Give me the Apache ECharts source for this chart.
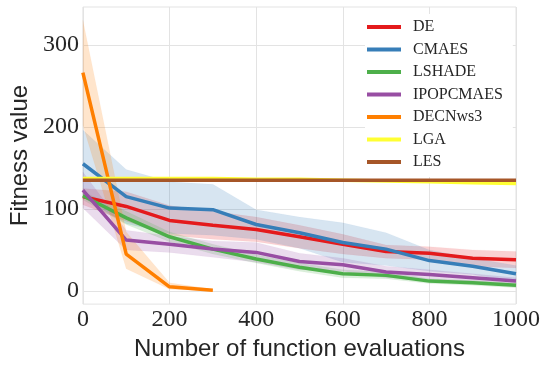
<!DOCTYPE html>
<html>
<head>
<meta charset="utf-8">
<script src="https://cdn.jsdelivr.net/npm/echarts@6/dist/echarts.min.js"></script>
<style>
  html, body { margin: 0; padding: 0; background: #fff; }
  #main { width: 548px; height: 366px; }
</style>
</head>
<body>
<div id="main"></div>
<script>
// evaluations on the x axis
const evals = [0, 100, 200, 300, 400, 500, 600, 700, 800, 900, 1000];
const evalsShort = [0, 100, 200, 300];
const yTicks = [0, 100, 200, 300];

// mean curves
const deMean = [115, 103, 86, 80, 75, 66, 57, 48, 46, 40, 38];
const cmaesMean = [155, 115, 101, 99, 81, 71, 59, 51, 37, 30, 21];
const lshadeMean = [116, 89, 66, 51, 39, 29, 21, 19, 12, 10, 7];
const ipopMean = [123, 62, 57, 51, 47, 36, 32, 23, 20, 16, 12];
const decnMean = [266, 45, 5, 1];
const lgaMean = [137, 137, 137, 137, 136, 136, 135, 134, 133, 132, 131];
const lesMean = [135, 135, 135, 135, 135, 135, 135, 135, 135, 135, 135];

// shaded bands (low / high)
const deLow = [105, 85, 68, 63, 60, 52, 45, 40, 38, 30, 28];
const deHigh = [125, 121, 104, 97, 90, 80, 69, 56, 54, 50, 48];
const cmaesLow = [114, 82, 70, 68, 63, 52, 35, 31, 24, 20, 11];
const cmaesHigh = [196, 148, 133, 130, 99, 90, 83, 71, 50, 40, 31];
const lshadeLow = [111, 81, 60, 45, 34, 24, 16, 15, 9, 7, 4];
const lshadeHigh = [121, 97, 72, 57, 44, 34, 26, 23, 15, 13, 10];
const ipopLow = [101, 50, 47, 41, 35, 26, 24, 16, 14, 11, 8];
const ipopHigh = [145, 74, 67, 61, 59, 46, 40, 30, 26, 21, 16];
const decnLow = [202, 27, 2, 0];
const decnHigh = [330, 72, 10, 2];

const names = ['DE', 'CMAES', 'LSHADE', 'IPOPCMAES', 'DECNws3', 'LGA', 'LES'];
const colors = ['#e41a1c', '#377eb8', '#4daf4a', '#984ea3', '#ff7f00', '#ffff33', '#a65628'];

var chart = echarts.init(document.getElementById('main'));

function pairs(xs, ys) {
  return ys.map(function (v, i) { return [xs[i], v]; });
}

// filled band between low and high, drawn through the axes
function band(xs, low, high, color) {
  return {
    type: 'custom', silent: true, z: 1,
    data: [[xs[0], low[0]]],
    renderItem: function (params, api) {
      var pts = [];
      for (var i = 0; i < xs.length; i++) pts.push(api.coord([xs[i], high[i]]));
      for (var j = xs.length - 1; j >= 0; j--) pts.push(api.coord([xs[j], low[j]]));
      return {
        type: 'polygon',
        shape: { points: pts },
        style: { fill: color, opacity: 0.2, stroke: color, lineWidth: 0.6, strokeOpacity: 0.3 }
      };
    }
  };
}

function line(name, xs, ys, color) {
  return {
    name: name, type: 'line', data: pairs(xs, ys), symbol: 'none', z: 3,
    itemStyle: { color: color },
    lineStyle: { color: color, width: 3.5 }
  };
}

var series = [
  band(evals, deLow, deHigh, colors[0]),
  band(evals, cmaesLow, cmaesHigh, colors[1]),
  band(evals, lshadeLow, lshadeHigh, colors[2]),
  band(evals, ipopLow, ipopHigh, colors[3]),
  band(evalsShort, decnLow, decnHigh, colors[4]),
  line('DE', evals, deMean, colors[0]),
  line('CMAES', evals, cmaesMean, colors[1]),
  line('LSHADE', evals, lshadeMean, colors[2]),
  line('IPOPCMAES', evals, ipopMean, colors[3]),
  line('DECNws3', evalsShort, decnMean, colors[4]),
  line('LGA', evals, lgaMean, colors[5]),
  line('LES', evals, lesMean, colors[6])
];

var option = {
  animation: false,
  grid: {
    left: 73, right: 32, top: 7, bottom: 59,
    show: true, borderColor: '#e3e3e3', borderWidth: 1
  },
  legend: {
    data: names,
    orient: 'vertical',
    left: 365, top: 14,
    padding: [4, 10, 6, 2],
    backgroundColor: '#ffffff',
    icon: 'rect',
    itemWidth: 34, itemHeight: 4,
    itemGap: 4.5,
    textStyle: {
      fontFamily: 'Liberation Serif', fontSize: 16, color: '#262626',
      lineHeight: 18, padding: [0, 0, 0, 7]
    }
  },
  xAxis: {
    type: 'value', min: 0, max: 1000, interval: 200,
    name: 'Number of function evaluations',
    nameLocation: 'middle', nameGap: 23,
    nameTextStyle: { fontFamily: 'Liberation Sans', fontSize: 24, color: '#262626' },
    axisLine: { show: false },
    axisTick: { show: false },
    axisLabel: {
      fontFamily: 'Liberation Serif', fontSize: 24, color: '#262626', margin: 4,
      formatter: function (v) { return String(v); }
    },
    splitLine: { show: true, lineStyle: { color: '#e3e3e3', width: 1 } }
  },
  yAxis: {
    type: 'value', min: -16, max: 346,
    name: 'Fitness value',
    nameLocation: 'middle', nameGap: 42,
    nameTextStyle: { fontFamily: 'Liberation Sans', fontSize: 24, color: '#262626' },
    axisLine: { show: false },
    axisTick: { show: false, customValues: yTicks },
    axisLabel: {
      customValues: yTicks,
      fontFamily: 'Liberation Serif', fontSize: 24, color: '#262626', margin: 4
    },
    splitLine: { show: true, lineStyle: { color: '#e3e3e3', width: 1 } }
  },
  series: series
};

chart.setOption(option);
</script>
</body>
</html>
